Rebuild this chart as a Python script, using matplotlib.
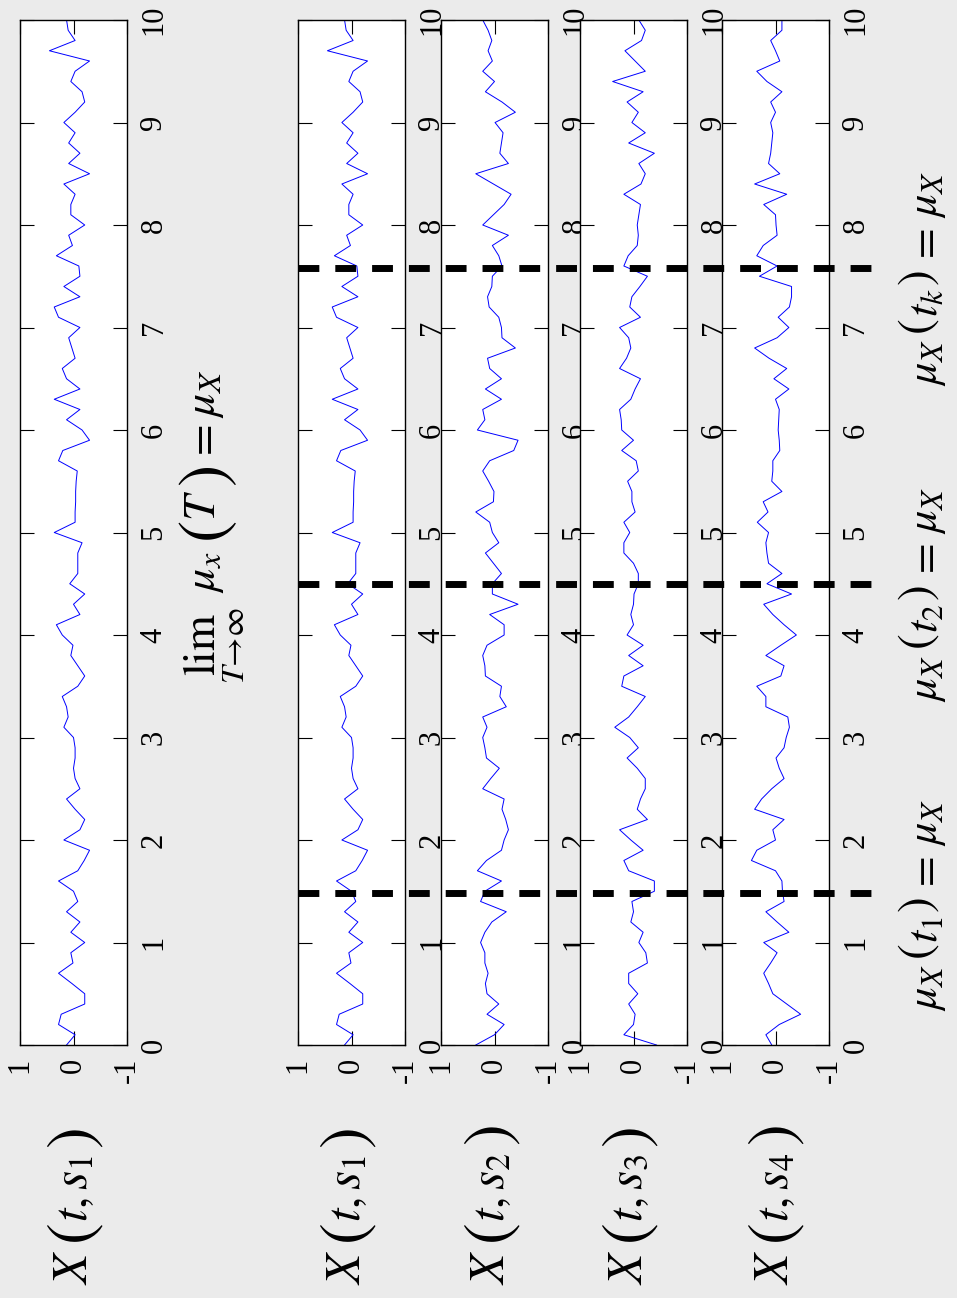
import matplotlib
matplotlib.use('Agg')
import matplotlib.pyplot as plt
from matplotlib.lines import Line2D
from matplotlib.transforms import blended_transform_factory
import numpy as np

plt.rcParams['mathtext.fontset'] = 'stix'
plt.rcParams['font.family'] = ['Liberation Serif', 'DejaVu Serif']

# sample times, every 0.1 from 0 to 10
t = np.round(np.arange(0, 10.01, 0.1), 1)

s1 = [0.13, -0.03, 0.28, 0.23, -0.21, -0.21, 0.03, 0.28, 0.01, 0.05,
      -0.21, 0.05, -0.12, 0.13, -0.08, 0.0, 0.28, -0.08, -0.20, -0.30,
      0.18, -0.12, -0.21, -0.03, 0.13, -0.12, -0.03, 0.0, -0.03, -0.03,
      0.0, 0.18, 0.10, 0.13, 0.21, -0.08, -0.21, -0.08, 0.05, 0.01,
      0.21, 0.32, -0.12, 0.0, -0.21, 0.07, -0.08, -0.08, -0.08, -0.16,
      0.36, -0.03, -0.03, -0.04, -0.04, -0.05, -0.07, 0.28, 0.20, -0.30,
      -0.16, 0.13, -0.12, 0.36, -0.12, 0.13, 0.21, -0.03, 0.03, 0.09,
      -0.12, 0.28, 0.36, -0.12, 0.18, -0.12, -0.10, 0.32, 0.02, 0.09,
      -0.21, 0.05, 0.05, -0.03, 0.18, -0.30, 0.09, -0.12, 0.09, -0.03,
      0.18, -0.03, -0.21, -0.16, 0.05, -0.03, -0.30, 0.45, -0.03, 0.10,
      0.13]
s2 = [0.35, 0.0, -0.18, 0.14, -0.08, 0.14, 0.17, 0.12, 0.18, 0.18,
      0.26, 0.18, 0.05, -0.22, 0.26, 0.18, -0.13, 0.32, 0.15, -0.13,
      -0.18, -0.26, -0.21, -0.14, -0.18, 0.22, 0.07, -0.09, 0.15, 0.18,
      0.22, 0.14, 0.22, -0.22, -0.10, -0.13, 0.17, 0.18, 0.22, 0.14,
      -0.18, -0.18, 0.09, -0.44, 0.04, 0.04, -0.13, 0.02, 0.17, -0.08,
      0.04, 0.09, 0.35, 0.02, 0.01, 0.11, 0.22, 0.09, -0.36, -0.44,
      0.32, 0.18, 0.22, -0.13, 0.17, -0.13, 0.09, 0.13, -0.39, -0.14,
      -0.13, -0.08, 0.10, 0.13, 0.05, 0.04, -0.14, -0.08, 0.04, -0.26,
      0.22, 0.02, -0.18, -0.31, 0.02, 0.35, -0.26, -0.10, -0.13, -0.16,
      -0.01, -0.39, -0.14, 0.17, 0.0, 0.22, 0.04, 0.12, 0.05, 0.12,
      0.22]
s3 = [-0.43, 0.18, 0.0, -0.03, 0.09, -0.08, 0.09, 0.09, -0.26, -0.23,
      -0.10, -0.18, 0.05, 0.0, 0.03, -0.39, -0.39, 0.09, 0.18, -0.18,
      0.05, 0.26, -0.26, -0.07, -0.13, -0.22, -0.22, -0.07, 0.12, -0.09,
      0.07, 0.35, 0.09, -0.07, -0.22, 0.22, 0.18, -0.18, 0.09, -0.18,
      0.12, 0.0, 0.05, 0.0, -0.01, -0.09, -0.09, 0.0, 0.18, 0.18,
      0.07, 0.18, -0.03, 0.03, 0.03, 0.11, -0.09, -0.05, 0.22, 0.0,
      0.22, 0.23, 0.26, 0.05, -0.03, -0.13, 0.26, 0.13, 0.05, 0.09,
      0.26, -0.13, 0.07, 0.03, -0.12, -0.26, 0.18, 0.10, -0.07, -0.09,
      -0.07, -0.10, -0.13, 0.18, -0.14, -0.22, -0.10, -0.39, 0.09, -0.22,
      0.03, -0.09, 0.12, -0.18, 0.39, -0.22, -0.03, 0.16, -0.15, -0.22,
      -0.10]
s4 = [0.07, 0.18, -0.07, -0.47, -0.21, 0.05, 0.13, 0.22, 0.09, -0.03,
      0.22, -0.25, -0.03, 0.18, -0.16, -0.13, -0.12, 0.0, 0.45, 0.35,
      0.0, 0.05, -0.16, 0.39, 0.26, 0.07, -0.16, -0.07, -0.01, -0.16,
      -0.20, -0.26, -0.23, 0.18, 0.18, 0.35, -0.10, -0.16, 0.18, -0.10,
      -0.39, -0.16, 0.05, 0.22, -0.30, 0.16, -0.12, 0.13, 0.16, 0.18,
      0.13, 0.34, 0.14, 0.23, -0.12, 0.07, 0.05, 0.05, -0.08, -0.07,
      -0.05, -0.06, -0.07, 0.0, -0.25, 0.03, -0.21, 0.12, 0.39, -0.03,
      -0.25, -0.05, -0.26, -0.30, -0.30, 0.30, -0.03, 0.35, 0.23, -0.03,
      -0.01, 0.0, 0.22, -0.21, 0.39, -0.08, 0.13, 0.09, 0.07, 0.05,
      0.09, 0.0, 0.09, -0.12, 0.16, 0.35, -0.08, 0.0, 0.09, -0.12,
      -0.12]

time_ticks = list(range(0, 11))
value_ticks = [1, 0, -1]
value_labels = ['1', '0', '-1']
cut_times = [1.48, 4.5, 7.58]
sample_names = ['s_1', 's_1', 's_2', 's_3', 's_4']
cut_names = ['t_1', 't_2', 't_k']

W, H = 957, 1298
fig = plt.figure(figsize=(W / 100, H / 100), dpi=100)
fig.patch.set_facecolor('#ebebeb')
renderer = fig.canvas.get_renderer()


def put_label(x_base, y_bottom, pieces):
    # writes a label bottom-to-top, piece by piece (so the brackets can be bigger)
    # piece: text, fontsize, baseline shift in px, gap before in px
    y = y_bottom
    for s, size, dx, gap in pieces:
        y -= gap
        txt = fig.text((x_base + dx) / W, 1 - y / H, s, fontsize=size, rotation=90,
                       rotation_mode='anchor', ha='left', va='baseline')
        y -= txt.get_window_extent(renderer).height


series = [s1, s1, s2, s3, s4]
lefts = [20, 298, 441, 580, 722]
label_base = [87, 360, 504, 642, 788]
top_px, bot_px, wid_px = 20, 1045, 107

axes = []
for i, (vals, lx) in enumerate(zip(series, lefts)):
    ax = fig.add_axes([lx / W, 1 - bot_px / H, wid_px / W, (bot_px - top_px) / H])
    ax.set_facecolor('white')
    ax.plot(vals, t, color='#0000ff', lw=0.7)
    ax.set_xlim(1, -1)
    ax.set_ylim(0, 10)
    ax.set_xticks(value_ticks)
    ax.set_xticklabels(value_labels, rotation=90)
    ax.set_yticks(time_ticks)
    ax.tick_params(axis='x', direction='in', top=True, bottom=True, length=10,
                   width=0.8, labelsize=22, pad=9)
    ax.tick_params(axis='y', direction='in', left=True, right=True, length=10,
                   width=0.8, labelsize=22, pad=9, labelleft=False, labelright=True,
                   labelrotation=90)
    for lab in ax.get_yticklabels():
        lab.set_va('center')
    for sp in ax.spines.values():
        sp.set_linewidth(1.0)
    put_label(label_base[i], 1285, [
        (r'$X$', 35, 0, 0),
        (r'$($', 47, 5, 5),
        (r'$t,%s$' % sample_names[i], 35, 0, 1),
        (r'$)$', 47, 5, 6),
    ])
    axes.append(ax)

# dashed time cuts across the ensemble panels
tr = blended_transform_factory(fig.transFigure, axes[1].transData)
for tc in cut_times:
    fig.add_artist(Line2D([298 / W, 875 / W], [tc, tc], transform=tr, color='black',
                          lw=5, dashes=(3, 2.3), zorder=10))

put_label(215, 684, [
    (r'$\lim_{T\rightarrow\infty}$', 33, 0, 0),
    (r'$\mu_x$', 33, 0, 14),
    (r'$($', 48, 10, 8),
    (r'$T$', 33, 0, 0),
    (r'$)$', 48, 10, 3),
    (r'$=$', 33, 0, 4),
    (r'$\mu_X$', 33, 0, 6),
])

for tc, nm in zip(cut_times, cut_names):
    ypx = H - axes[1].transData.transform((0, tc))[1]
    put_label(937, ypx + 118, [
        (r'$\mu_X$', 32, 0, 0),
        (r'$($', 34, -6, 4),
        (r'$%s$' % nm, 32, 0, 1),
        (r'$)$', 34, -6, 3),
        (r'$=$', 32, 0, 5),
        (r'$\mu_X$', 32, 0, 10),
    ])

fig.savefig('out.png', dpi=100, facecolor=fig.get_facecolor())
